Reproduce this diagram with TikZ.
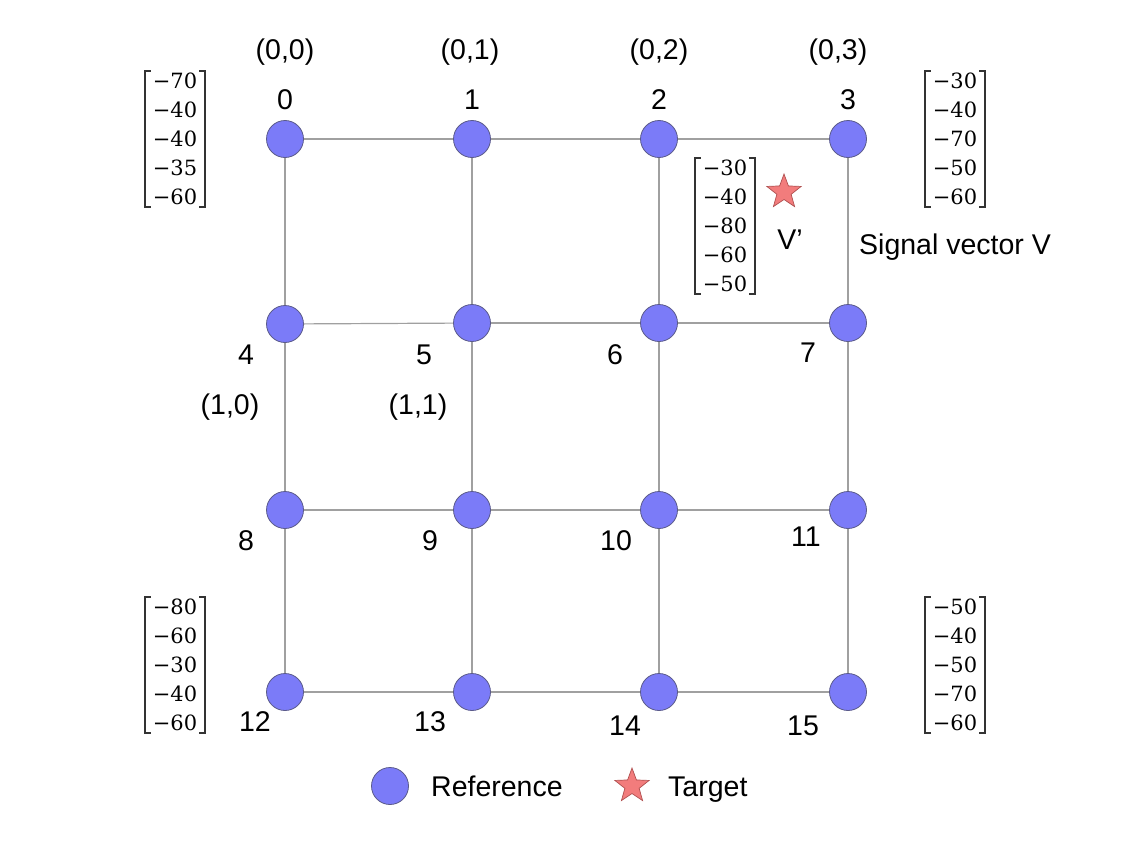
\documentclass[tikz,border=0pt]{standalone}
\usepackage[no-math]{fontspec}
\setmainfont{Liberation Sans}
\newfontfamily\vecfont{DejaVu Serif}
\usetikzlibrary{shapes.geometric}
\definecolor{refblue}{HTML}{7B7BF8}
\definecolor{refedge}{HTML}{5A5A8A}
\definecolor{tgtred}{HTML}{F27C7C}
\definecolor{tgtedge}{HTML}{B05050}
\definecolor{gridgray}{HTML}{A0A0A0}
\definecolor{brk}{HTML}{333333}
\tikzset{
  refnode/.style={circle,fill=refblue,draw=refedge,line width=0.8pt,minimum size=37pt,inner sep=0pt},
  tgtnode/.style={star,star points=5,star point ratio=2.4,fill=tgtred,draw=tgtedge,line width=0.7pt,minimum size=36pt,inner sep=0pt},
  gridline/.style={draw=gridgray,line width=1.2pt},
  lbl/.style={font=\fontsize{28.5}{33}\selectfont,inner sep=0pt},
  vec/.style={font=\vecfont\fontsize{21}{29}\selectfont,align=right,inner xsep=8pt,inner ysep=1.5pt},
  bracketline/.style={draw=brk,line width=1.8pt}
}
\newcommand{\brackets}[1]{%
  \draw[bracketline] ([xshift=6pt]#1.north west) -- (#1.north west) -- (#1.south west) -- ([xshift=6pt]#1.south west);
  \draw[bracketline] ([xshift=-6pt]#1.north east) -- (#1.north east) -- (#1.south east) -- ([xshift=-6pt]#1.south east);}
\begin{document}
\begin{tikzpicture}[x=1pt,y=-1pt]
\useasboundingbox (0,0) rectangle (1123,851);
% nodes
\node[refnode] (n0) at (285,139) {};
\node[refnode] (n1) at (472,139) {};
\node[refnode] (n2) at (659,139) {};
\node[refnode] (n3) at (848,139) {};
\node[refnode] (n4) at (285,324) {};
\node[refnode] (n5) at (472,323) {};
\node[refnode] (n6) at (659,323) {};
\node[refnode] (n7) at (848,323) {};
\node[refnode] (n8) at (285,510) {};
\node[refnode] (n9) at (472,510) {};
\node[refnode] (n10) at (659,510) {};
\node[refnode] (n11) at (848,510) {};
\node[refnode] (n12) at (285,692) {};
\node[refnode] (n13) at (472,692) {};
\node[refnode] (n14) at (659,692) {};
\node[refnode] (n15) at (848,692) {};
% grid edges
\foreach \a/\b in {n0/n1,n1/n2,n2/n3,n4/n5,n5/n6,n6/n7,n8/n9,n9/n10,n10/n11,n12/n13,n13/n14,n14/n15,
  n0/n4,n4/n8,n8/n12,n1/n5,n5/n9,n9/n13,n2/n6,n6/n10,n10/n14,n3/n7,n7/n11,n11/n15}
  \draw[gridline] (\a) -- (\b);
% index labels
\node[lbl] (c0) at (285,52) {(0,0)};
\node[lbl] (l0) at (285,100) {0};
\node[lbl] (c1) at (470,52) {(0,1)};
\node[lbl] (l1) at (472,100) {1};
\node[lbl] (c2) at (659,52) {(0,2)};
\node[lbl] (l2) at (659,100) {2};
\node[lbl] (c3) at (838,52) {(0,3)};
\node[lbl] (l3) at (848,100) {3};
\node[lbl] (l4) at (246,355) {4};
\node[lbl] (c4) at (230,407) {(1,0)};
\node[lbl] (l5) at (424,355) {5};
\node[lbl] (c5) at (418,407) {(1,1)};
\node[lbl] (l6) at (615,355) {6};
\node[lbl] (l7) at (808,353) {7};
\node[lbl] (l8) at (246,541) {8};
\node[lbl] (l9) at (430,541) {9};
\node[lbl] (l10) at (616,541) {10};
\node[lbl] (l11) at (806,537) {11};
\node[lbl] (l12) at (255,722) {12};
\node[lbl] (l13) at (430,722) {13};
\node[lbl] (l14) at (625,726) {14};
\node[lbl] (l15) at (803,726) {15};
% vectors
\node[vec] (v0) at (175,139) {−70\\−40\\−40\\−35\\−60};
\node[vec] (v3) at (955,139) {−30\\−40\\−70\\−50\\−60};
\node[vec] (vt) at (725,226) {−30\\−40\\−80\\−60\\−50};
\node[vec] (v12) at (175,665) {−80\\−60\\−30\\−40\\−60};
\node[vec] (v15) at (955,665) {−50\\−40\\−50\\−70\\−60};
\brackets{v0}
\brackets{v3}
\brackets{vt}
\brackets{v12}
\brackets{v15}
% target
\node[tgtnode] (t) at (784,192) {};
\node[lbl] (vp) at (790,240) {V’};
\node[lbl] (sv) at (955,247) {Signal vector V};
% legend
\node[refnode] (lgref) at (390,786) {};
\node[lbl,anchor=base west] (lgreftxt) at (431,796) {Reference};
\node[tgtnode] (lgtgt) at (632,786) {};
\node[lbl,anchor=base west] (lgtgttxt) at (668,796) {Target};
\end{tikzpicture}
\end{document}
